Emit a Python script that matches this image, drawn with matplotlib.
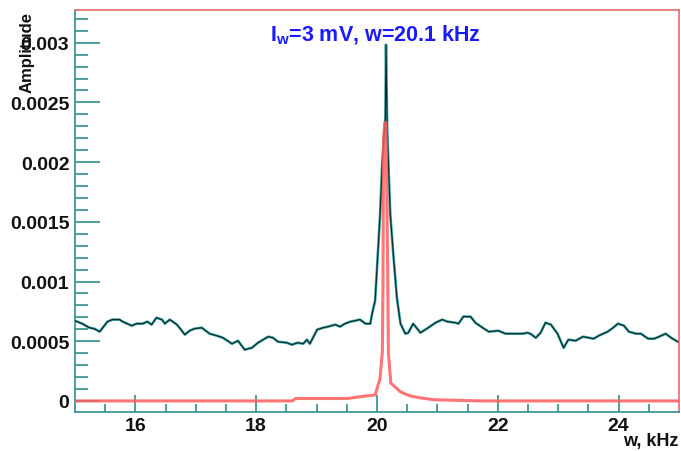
import matplotlib
matplotlib.use('Agg')
import matplotlib.pyplot as plt
from matplotlib.ticker import FixedLocator, FuncFormatter

plt.rcParams['font.family'] = ['Liberation Sans', 'DejaVu Sans']
plt.rcParams['font.weight'] = 'bold'
plt.rcParams['mathtext.fontset'] = 'custom'
plt.rcParams['mathtext.rm'] = 'Liberation Sans:bold'
plt.rcParams['mathtext.bf'] = 'Liberation Sans:bold'

w_meas = [15.00, 15.12, 15.24, 15.32, 15.41, 15.46, 15.54, 15.62, 15.74, 15.79,
          15.94, 16.02, 16.12, 16.20, 16.27, 16.35, 16.44, 16.49, 16.57, 16.69,
          16.82, 16.90, 16.98, 17.10, 17.23, 17.35, 17.45, 17.60, 17.70, 17.81,
          17.93, 18.03, 18.20, 18.28, 18.36, 18.51, 18.59, 18.69, 18.78, 18.84,
          18.89, 19.01, 19.11, 19.19, 19.31, 19.39, 19.47, 19.56, 19.64, 19.72,
          19.81, 19.89, 19.92, 19.97, 20.05, 20.09, 20.14, 20.15, 20.17, 20.22,
          20.27, 20.33, 20.39, 20.47, 20.52, 20.60, 20.72, 20.85, 20.97, 21.08,
          21.17, 21.30, 21.35, 21.43, 21.55, 21.63, 21.75, 21.85, 22.01, 22.13,
          22.30, 22.41, 22.49, 22.54, 22.63, 22.71, 22.79, 22.88, 22.99, 23.09,
          23.17, 23.29, 23.41, 23.51, 23.59, 23.67, 23.82, 23.91, 23.99, 24.09,
          24.17, 24.29, 24.37, 24.49, 24.59, 24.67, 24.78, 24.87, 24.98]
amp_meas = [0.000672, 0.000647, 0.000613, 0.000605, 0.000580, 0.000613, 0.000664, 0.000681, 0.000681, 0.000664,
            0.000630, 0.000647, 0.000647, 0.000664, 0.000639, 0.000697, 0.000681, 0.000647, 0.000681, 0.000639,
            0.000555, 0.000588, 0.000605, 0.000613, 0.000563, 0.000546, 0.000529, 0.000479, 0.000504, 0.000429,
            0.000445, 0.000487, 0.000538, 0.000529, 0.000496, 0.000487, 0.000471, 0.000487, 0.000479, 0.000513,
            0.000479, 0.000597, 0.000613, 0.000622, 0.000639, 0.000622, 0.000647, 0.000664, 0.000672, 0.000681,
            0.000647, 0.000647, 0.000731, 0.000840, 0.001538, 0.002017, 0.002370, 0.002983, 0.002269, 0.001571,
            0.001235, 0.000866, 0.000647, 0.000563, 0.000571, 0.000647, 0.000571, 0.000613, 0.000655, 0.000681,
            0.000664, 0.000655, 0.000647, 0.000706, 0.000706, 0.000655, 0.000613, 0.000580, 0.000588, 0.000563,
            0.000563, 0.000563, 0.000571, 0.000563, 0.000529, 0.000571, 0.000655, 0.000639, 0.000563, 0.000445,
            0.000513, 0.000504, 0.000538, 0.000529, 0.000521, 0.000546, 0.000580, 0.000613, 0.000647, 0.000630,
            0.000580, 0.000563, 0.000563, 0.000521, 0.000521, 0.000538, 0.000563, 0.000529, 0.000496]

# fitted curve (red)
w_fit = [15.00, 18.60, 18.65, 19.50, 19.80, 19.97, 20.05, 20.09, 20.10, 20.11,
         20.13, 20.15, 20.17, 20.19, 20.23, 20.39, 20.55, 20.72, 20.95, 21.70, 25.00]
amp_fit = [0.0, 0.0, 0.00002, 0.00002, 0.00004, 0.00005, 0.000185, 0.00041, 0.00097, 0.0022,
           0.00233, 0.00233, 0.0015, 0.00040, 0.00015, 0.000076, 0.000042, 0.000025, 0.00001, 0.0, 0.0]

y_ticks = [0, 0.0005, 0.001, 0.0015, 0.002, 0.0025, 0.003]
x_ticks = [16, 18, 20, 22, 24]

fig = plt.figure(figsize=(6.81, 4.52), dpi=100)
ax = fig.add_axes([0.110, 0.087, 0.887, 0.889])

ax.plot(w_meas, amp_meas, color='#3aa3a3', lw=1.9, zorder=2)
ax.plot(w_meas, amp_meas, color='#0b2626', lw=0.8, zorder=3)
ax.plot(w_fit, amp_fit, color='#ff5c5c', lw=2.2, alpha=0.85, zorder=4)

ax.set_xlim(15, 25)
ax.set_ylim(-0.00009, 0.003275)

ax.xaxis.set_major_locator(FixedLocator(x_ticks))
ax.xaxis.set_minor_locator(FixedLocator([15.5 + 0.5 * i for i in range(19)]))
ax.yaxis.set_major_locator(FixedLocator(y_ticks))
ax.yaxis.set_minor_locator(FixedLocator([0.0001 * i for i in range(33)]))
ax.yaxis.set_major_formatter(FuncFormatter(lambda v, p: '%g' % v))

ax.tick_params(axis='x', which='major', direction='in', length=12, width=1.2,
               color='#2f8f8f', labelsize=14, pad=4)
ax.tick_params(axis='x', which='minor', direction='in', length=6, width=1.2, color='#2f8f8f')
ax.tick_params(axis='y', which='major', direction='in', length=18, width=1.2,
               color='#2f8f8f', labelsize=14, pad=4)
ax.tick_params(axis='y', which='minor', direction='in', length=9, width=1.2, color='#2f8f8f')
for lab in ax.get_xticklabels() + ax.get_yticklabels():
    lab.set_fontweight('bold')
    lab.set_color('#111111')

ax.spines['left'].set_color('#2f8f8f')
ax.spines['bottom'].set_color('#2f8f8f')
ax.spines['top'].set_color('#e86a6a')
ax.spines['right'].set_color('#e86a6a')
for s in ax.spines.values():
    s.set_linewidth(1.2)

ax.text(0.498, 0.940, r'I$_\mathbf{w}$=3 mV, w=20.1 kHz', transform=ax.transAxes,
        ha='center', va='center', color='#1a1aff', fontsize=15.5, fontweight='bold')

fig.text(27 / 681, 1 - 12 / 452, 'Amplitude', rotation=90, ha='center', va='top',
         fontsize=12, fontweight='bold', color='#111111')
fig.text(678 / 681, 1 - 442 / 452, 'w, kHz', ha='right', va='center',
         fontsize=13, fontweight='bold', color='#111111')

fig.savefig('out.png', dpi=100)
